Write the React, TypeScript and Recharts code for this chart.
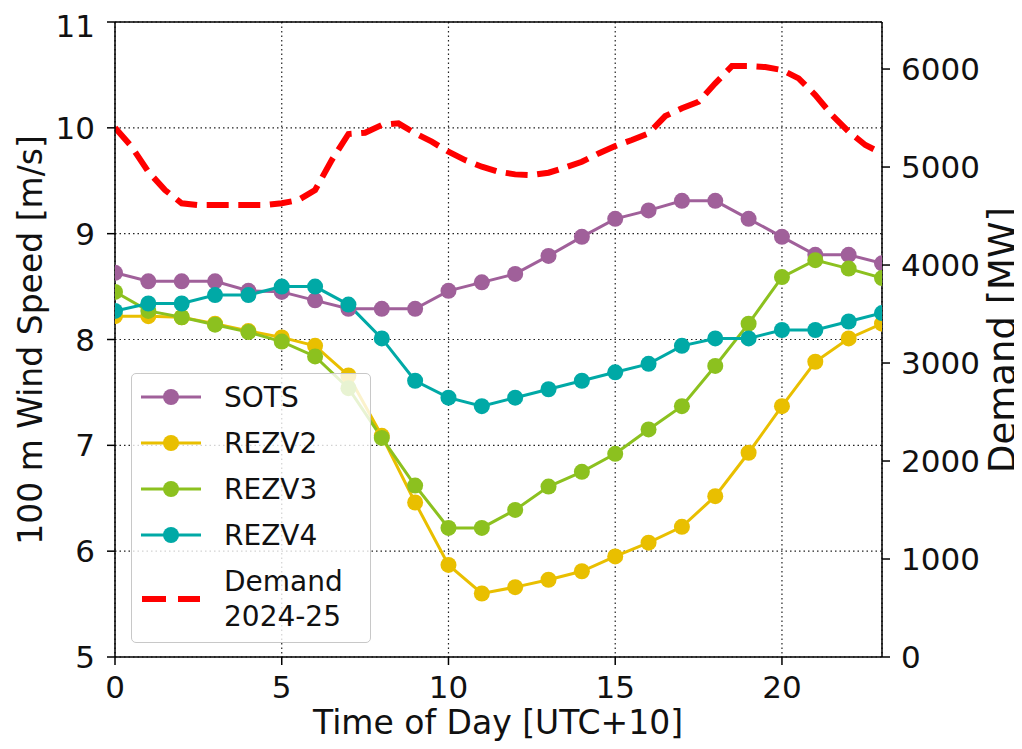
import React from 'react';
import { ComposedChart, Line, XAxis, YAxis, CartesianGrid, ReferenceLine } from 'recharts';

const hours = [0, 1, 2, 3, 4, 5, 6, 7, 8, 9, 10, 11, 12, 13, 14, 15, 16, 17, 18, 19, 20, 21, 22, 23];
const sots = [8.63, 8.55, 8.55, 8.55, 8.46, 8.45, 8.37, 8.29, 8.29, 8.29, 8.46, 8.54, 8.62, 8.79, 8.97, 9.14, 9.22, 9.31, 9.31, 9.14, 8.97, 8.8, 8.8, 8.72];
const rezv2 = [8.22, 8.22, 8.21, 8.15, 8.08, 8.02, 7.94, 7.66, 7.09, 6.46, 5.87, 5.6, 5.66, 5.73, 5.81, 5.95, 6.08, 6.23, 6.52, 6.93, 7.37, 7.79, 8.01, 8.15];
const rezv3 = [8.45, 8.27, 8.21, 8.14, 8.07, 7.98, 7.84, 7.54, 7.07, 6.62, 6.22, 6.22, 6.39, 6.61, 6.75, 6.92, 7.15, 7.37, 7.75, 8.15, 8.59, 8.75, 8.67, 8.58];
const rezv4 = [8.27, 8.34, 8.34, 8.42, 8.42, 8.5, 8.5, 8.33, 8.01, 7.61, 7.45, 7.37, 7.45, 7.53, 7.61, 7.69, 7.77, 7.94, 8.01, 8.01, 8.09, 8.09, 8.17, 8.25];

// demand is half-hourly
const demandTimes = [0, 0.5, 1, 1.5, 2, 2.5, 3, 3.5, 4, 4.5, 5, 5.5, 6, 6.5, 7, 7.5, 8, 8.5, 9, 9.5, 10, 10.5, 11, 11.5, 12, 12.5, 13, 13.5, 14, 14.5, 15, 15.5, 16, 16.5, 17, 17.5, 18, 18.5, 19, 19.5, 20, 20.5, 21, 21.5, 22, 22.5, 23];
const demand = [5400, 5207, 4952, 4765, 4630, 4612, 4612, 4612, 4612, 4612, 4630, 4663, 4765, 5071, 5337, 5350, 5429, 5446, 5344, 5259, 5156, 5071, 5003, 4952, 4925, 4918, 4942, 4996, 5054, 5139, 5214, 5276, 5344, 5520, 5599, 5667, 5854, 6030, 6030, 6020, 5990, 5905, 5735, 5531, 5361, 5225, 5139];

const xTicks = [0, 5, 10, 15, 20];
const windTicks = [5, 6, 7, 8, 9, 10, 11];
const demandTicks = [0, 1000, 2000, 3000, 4000, 5000, 6000];

const windSeries = [
  { name: 'SOTS', values: sots, color: '#a0609a' },
  { name: 'REZV2', values: rezv2, color: '#e9bf00' },
  { name: 'REZV3', values: rezv3, color: '#8cc11f' },
  { name: 'REZV4', values: rezv4, color: '#00a9a6' },
];
const demandSeries = { name: 'Demand\n2024-25', color: '#ff0000' };

const windData = hours.map((h, i) => {
  const row: Record<string, number> = { hour: h };
  windSeries.forEach((s) => { row[s.name] = s.values[i]; });
  return row;
});
const demandData = demandTimes.map((h, i) => ({ hour: h, demand: demand[i] }));

const FONT = '"DejaVu Sans", sans-serif';
const tickStyle = { fontSize: 31, fill: '#111', fontFamily: FONT };
const axisProps = {
  axisLine: { stroke: '#000', strokeWidth: 1.5 },
  tickLine: { stroke: '#000', strokeWidth: 1.5 },
};

const LegendBox = () => (
  <div style={{
    position: 'absolute', left: 123, top: 365, width: 240, height: 270,
    background: 'rgba(255,255,255,0.8)', border: '1.5px solid #c8c8c8', borderRadius: 5,
    fontFamily: FONT, fontSize: 28, color: '#111', boxSizing: 'border-box',
  }}>
    {windSeries.map((s, i) => (
      <div key={s.name} style={{ position: 'absolute', left: 8, top: 6 + i * 46, height: 34, display: 'flex', alignItems: 'center' }}>
        <svg width={62} height={20}>
          <line x1={1} y1={10} x2={61} y2={10} stroke={s.color} strokeWidth={3} />
          <circle cx={31} cy={10} r={8} fill={s.color} />
        </svg>
        <span style={{ marginLeft: 22 }}>{s.name}</span>
      </div>
    ))}
    <div style={{ position: 'absolute', left: 8, top: 190, display: 'flex', alignItems: 'center' }}>
      <svg width={62} height={20}>
        <line x1={2} y1={10} x2={60} y2={10} stroke={demandSeries.color} strokeWidth={6} strokeDasharray="24 12" />
      </svg>
      <span style={{ marginLeft: 22, whiteSpace: 'pre', lineHeight: '35px' }}>{demandSeries.name}</span>
    </div>
  </div>
);

const App: React.FC = () => {
  return (
    <div style={{ position: 'relative', width: 1014, height: 741, background: '#fff' }}>
      <ComposedChart width={1014} height={741} margin={{ top: 14, right: 40, bottom: 42, left: 12 }}>
        <CartesianGrid yAxisId="left" stroke="#222" strokeWidth={1.2} strokeDasharray="1.5 3" />
        <XAxis
          dataKey="hour" type="number" domain={[0, 23]} ticks={xTicks} allowDataOverflow
          height={50} tick={tickStyle} tickSize={8} tickMargin={11} {...axisProps}
        />
        <YAxis
          yAxisId="left" domain={[5, 11]} ticks={windTicks} width={95}
          tick={tickStyle} tickSize={8} tickMargin={12} {...axisProps}
        />
        <YAxis
          yAxisId="right" orientation="right" domain={[0, 6480]} ticks={demandTicks} width={100}
          tick={{ ...tickStyle, textAnchor: 'start' }} tickSize={8} tickMargin={11} {...axisProps}
        />
        <ReferenceLine yAxisId="left" y={11} stroke="#000" strokeWidth={1.5} />
        {windSeries.map((s) => (
          <Line
            key={s.name} yAxisId="left" data={windData} dataKey={s.name} type="linear"
            stroke={s.color} strokeWidth={3} isAnimationActive={false}
            dot={{ r: 8, fill: s.color, stroke: s.color, strokeWidth: 0 }} activeDot={false}
          />
        ))}
        <Line
          yAxisId="right" data={demandData} dataKey="demand" type="linear"
          stroke={demandSeries.color} strokeWidth={6} strokeDasharray="22 9.6"
          dot={false} activeDot={false} isAnimationActive={false}
        />
      </ComposedChart>
      <LegendBox />
      <div style={{ position: 'absolute', left: 490, top: 714, transform: 'translate(-50%, -50%)', whiteSpace: 'nowrap', fontFamily: FONT, fontSize: 33, color: '#111' }}>
        Time of Day [UTC+10]
      </div>
      <div style={{ position: 'absolute', left: 22, top: 332, transform: 'translate(-50%, -50%) rotate(-90deg)', whiteSpace: 'nowrap', fontFamily: FONT, fontSize: 33, color: '#111' }}>
        100 m Wind Speed [m/s]
      </div>
      <div style={{ position: 'absolute', left: 994, top: 332, transform: 'translate(-50%, -50%) rotate(-90deg)', whiteSpace: 'nowrap', fontFamily: FONT, fontSize: 37, color: '#111' }}>
        Demand [MW]
      </div>
    </div>
  );
};

export default App;
